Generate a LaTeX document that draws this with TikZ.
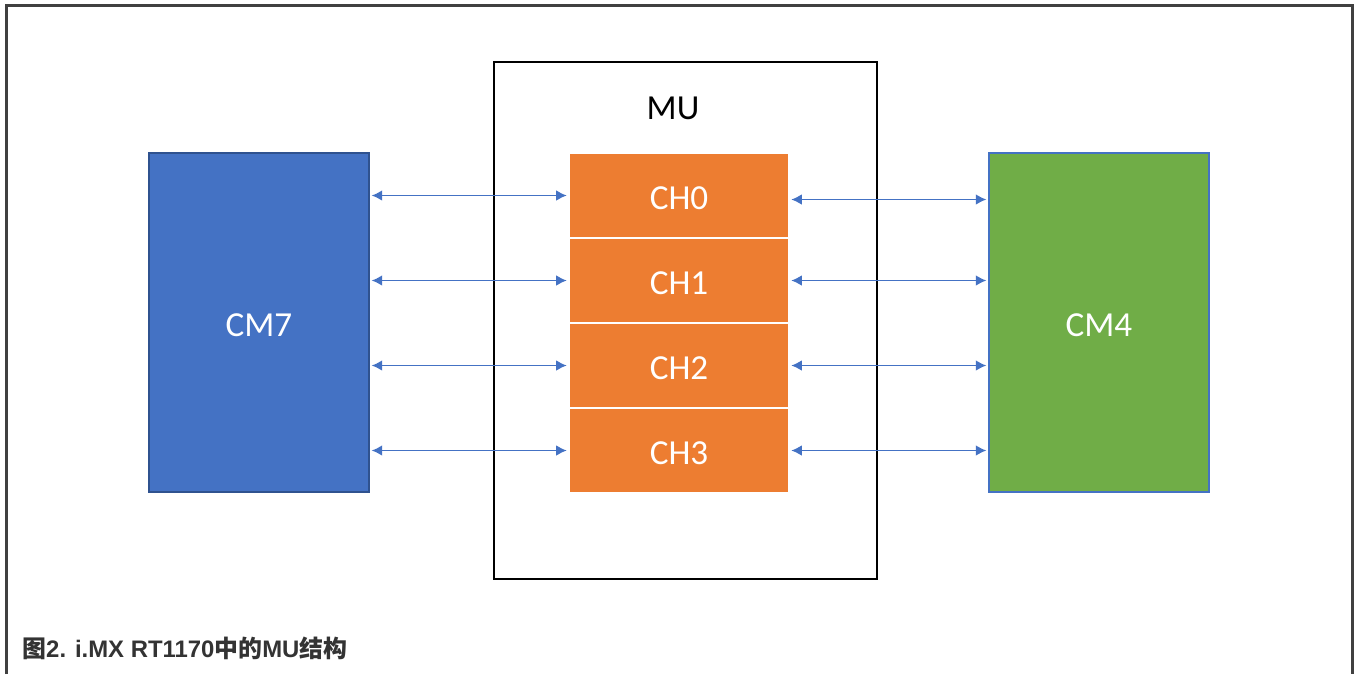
\documentclass[tikz,border=0pt]{standalone}
\usepackage{fontspec}
\setmainfont{Carlito}
\newfontfamily\capfont{Liberation Sans}
\newfontfamily\cjk{Noto Sans CJK SC}
\usetikzlibrary{arrows.meta}

\definecolor{cmblue}{HTML}{4472C4}
\definecolor{cmgreen}{HTML}{70AD47}
\definecolor{chorange}{HTML}{ED7D31}
\definecolor{edgeblue}{HTML}{2F528F}
\definecolor{framegray}{HTML}{404040}
\definecolor{capgray}{HTML}{333333}

\newcommand{\lowtext}[1]{\raisebox{-0.06cm}[\height][\depth]{#1}}

\tikzset{
    cmbox/.style={draw=edgeblue, line width=1pt, text=white, minimum width=4.4cm, minimum height=6.78cm, font=\fontsize{20}{24}\selectfont},
    chbox/.style={fill=chorange, draw=white, line width=0.6pt, text=white, minimum width=4.4cm, minimum height=1.7cm, font=\fontsize{20}{24}\selectfont},
    link/.style={{Latex[length=6pt,width=6pt]}-{Latex[length=6pt,width=6pt]}, cmblue, line width=0.8pt, shorten <=1pt, shorten >=1pt}
}

\begin{document}
\begin{tikzpicture}[x=0.02cm, y=-0.02cm]
    \useasboundingbox (0,0) rectangle (1354,674);

    % frame
    \draw[framegray, line width=1.4pt] (6.5,674) -- (6.5,5.5) -- (1352.5,5.5) -- (1352.5,674);

    % MU
    \node[draw=black, line width=1.2pt, minimum width=7.66cm, minimum height=10.34cm] (mu) at (685.5,320.5) {};
    \node[font=\fontsize{20}{24}\selectfont] (mulabel) at (673,108) {MU};

    % channels
    \foreach \i in {0,...,3}
        \node[chbox] (ch\i) at (679,195.5+85*\i) {\lowtext{CH\i}};

    % cores
    \node[cmbox, fill=cmblue] (cm7) at (259,322.5) {\lowtext{CM7}};
    \node[cmbox, fill=cmgreen, draw=cmblue] (cm4) at (1099,322.5) {\lowtext{CM4}};

    % links
    \foreach \i in {0,...,3}
        \draw[link] (cm7.east |- ch\i.west) -- (ch\i.west);
    \draw[link] ([yshift=-0.08cm]ch0.east) -- ([yshift=-0.08cm]cm4.west |- ch0.east);
    \foreach \i in {1,...,3}
        \draw[link] (ch\i.east) -- (cm4.west |- ch\i.east);

    % caption
    \node[anchor=base west, inner sep=0pt, text=capgray, font=\fontsize{13.6}{16}\selectfont\bfseries] (caption) at (22,657)
        {{\cjk\bfseries 图}{\capfont\bfseries 2. i.MX RT1170}{\cjk\bfseries 中的}{\capfont\bfseries MU}{\cjk\bfseries 结构}};
\end{tikzpicture}
\end{document}
